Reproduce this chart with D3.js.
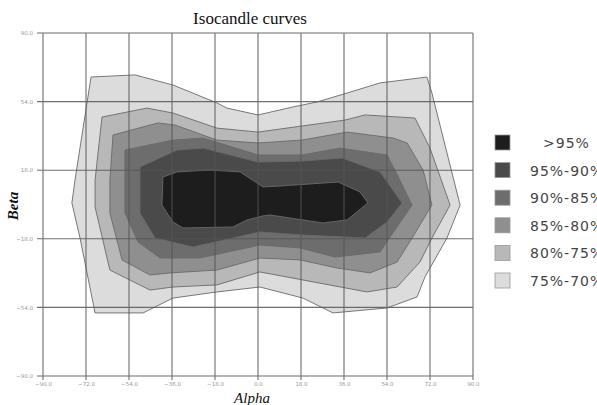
<!DOCTYPE html>
<html>
<head>
<meta charset="utf-8">
<script src="https://cdn.jsdelivr.net/npm/d3@7"></script>
<style>
  body { margin: 0; background: #fff; overflow: hidden; }
  svg { display: block; }
</style>
</head>
<body>
<svg id="chart"></svg>
<script>
// contour levels, outermost first (alpha, beta pairs)
const lvl70 = [[-69.9,66.9],[-51.5,68.0],[-35.6,62.7],[-17.2,53.3],[-13.0,50.6],[0,47.0],[14.7,51.2],[24.7,53.8],[37.3,58.5],[51.1,63.8],[70.7,66.9],[72.8,58.5],[84.6,-0.3],[79.1,-17.6],[69.9,-38.0],[66.6,-48.5],[54.0,-54.3],[31.4,-56.9],[18.8,-49.1],[0.8,-43.3],[-17.2,-45.9],[-35.6,-49.1],[-48.1,-56.9],[-68.2,-56.9],[-74.5,-17.6],[-77.9,0.8],[-76.6,12.9]];
const lvl75 = [[-65.3,45.9],[-46.5,50.6],[-35.6,48.0],[-17.2,40.1],[0,38.0],[18.4,41.2],[36.4,44.3],[44.8,47.0],[65.7,45.4],[72.0,29.6],[80.4,-0.3],[72.8,-17.6],[67.8,-30.2],[58.2,-43.3],[45.6,-45.9],[18.8,-39.6],[0.8,-35.4],[-17.2,-42.2],[-35.6,-43.3],[-45.2,-44.9],[-62.0,-34.4],[-68.2,-1.3],[-68.2,12.9]];
const lvl80 = [[-60.7,36.5],[-41.9,42.8],[-34.7,41.7],[-17.2,33.8],[0,32.3],[18.4,33.8],[37.3,38.0],[56.5,34.9],[62.4,32.3],[69.1,18.1],[72.8,-0.3],[64.5,-17.6],[58.2,-30.2],[46.9,-35.9],[33.1,-33.3],[17.6,-29.1],[0.8,-28.1],[-17.2,-34.4],[-36.8,-35.9],[-45.2,-37.0],[-56.9,-29.1],[-62.0,-4.5],[-62.0,12.9]];
const lvl85 = [[-55.7,28.6],[-35.6,33.8],[-23.0,34.9],[0,26.0],[18.4,26.0],[34.3,29.6],[54.0,26.0],[57.3,18.1],[64.5,-0.3],[55.3,-17.1],[51.1,-24.9],[32.2,-27.6],[17.6,-22.8],[0.8,-21.3],[-24.3,-28.1],[-41.0,-28.1],[-50.2,-19.7],[-55.7,-4.5],[-55.7,12.9]];
const lvl90 = [[-49.4,19.7],[-33.9,28.6],[-23.0,29.6],[0,22.3],[18.4,22.8],[35.2,24.4],[51.1,17.1],[60.3,0.8],[54.0,-9.2],[44.8,-17.6],[18.4,-16.0],[0.8,-14.4],[-27.2,-22.3],[-43.1,-17.6],[-49.4,-4.5]];
const lvl95 = [[-39.8,14.4],[-33.9,17.1],[-20.1,18.1],[-7.5,17.1],[2.1,9.2],[9.2,9.7],[33.5,11.8],[42.7,6.6],[46.0,0.8],[37.3,-8.1],[27.2,-9.7],[5.0,-5.5],[2.1,-6.0],[-4.6,-8.1],[-10.5,-11.8],[-31.4,-12.3],[-35.6,-9.2],[-40.2,-0.3]];

const levels = [lvl70, lvl75, lvl80, lvl85, lvl90, lvl95];
const levelColors = ["#dcdcdc", "#b8b8b8", "#8f8f8f", "#6d6d6d", "#4a4a4a", "#1d1d1d"];
const legendLabels = [">95%", "95%-90%", "90%-85%", "85%-80%", "80%-75%", "75%-70%"];
const legendColors = ["#1d1d1d", "#4a4a4a", "#6d6d6d", "#8f8f8f", "#b8b8b8", "#dcdcdc"];
const alphaTicks = [-90, -72, -54, -36, -18, 0, 18, 36, 54, 72, 90];
const betaTicks = [-90, -54, -18, 18, 54, 90];

const svgWidth = 597, svgHeight = 405;
const svg = d3.select("#chart").attr("width", svgWidth).attr("height", svgHeight);

const x = d3.scaleLinear().domain([-90, 90]).range([43, 473]);
const y = d3.scaleLinear().domain([-90, 90]).range([376, 33]);

// filled contours
const line = d3.line().x(d => x(d[0])).y(d => y(d[1])).curve(d3.curveLinearClosed);
svg.append("g")
    .selectAll("path")
    .data(levels)
    .enter()
    .append("path")
    .attr("d", d => line(d))
    .attr("fill", (d, i) => levelColors[i])
    .attr("stroke", "#6a6a6a")
    .attr("stroke-width", 0.9);

// grid on top
const grid = svg.append("g").attr("stroke", "#555").attr("stroke-width", 1.1).attr("opacity", 0.85);
grid.selectAll(".gx").data(alphaTicks).enter().append("line")
    .attr("x1", d => x(d)).attr("x2", d => x(d))
    .attr("y1", y(90)).attr("y2", y(-90) + 4);
grid.selectAll(".gy").data(betaTicks).enter().append("line")
    .attr("x1", x(-90) - 6).attr("x2", x(90))
    .attr("y1", d => y(d)).attr("y2", d => y(d));

// axes (labels only, grid handles the lines)
const fmt = d3.format(".1f");
const xAxis = svg.append("g")
    .attr("transform", `translate(0,${y(-90)})`)
    .call(d3.axisBottom(x).tickValues(alphaTicks).tickFormat(fmt).tickSize(0).tickPadding(6));
const yAxis = svg.append("g")
    .attr("transform", `translate(${x(-90)},0)`)
    .call(d3.axisLeft(y).tickValues(betaTicks).tickFormat(fmt).tickSize(0).tickPadding(10));
[xAxis, yAxis].forEach(a => {
    a.select(".domain").remove();
    a.selectAll("text").attr("fill", "#999").style("font-family", "DejaVu Sans").style("font-size", "5.5px");
});

// title and axis titles
svg.append("text")
    .attr("x", 250).attr("y", 24)
    .attr("text-anchor", "middle")
    .style("font-family", "Liberation Serif").style("font-size", "17px")
    .attr("fill", "#111")
    .text("Isocandle curves");

svg.append("text")
    .attr("x", 252).attr("y", 403)
    .attr("text-anchor", "middle")
    .style("font-family", "Liberation Serif").style("font-size", "15px").style("font-style", "italic")
    .attr("fill", "#111")
    .text("Alpha");

svg.append("text")
    .attr("transform", "translate(18,206) rotate(-90)")
    .attr("text-anchor", "middle")
    .style("font-family", "Liberation Serif").style("font-size", "15px").style("font-style", "italic")
    .style("font-weight", "bold")
    .attr("fill", "#111")
    .text("Beta");

// legend
const legend = svg.append("g");
legend.selectAll("rect").data(legendColors).enter().append("rect")
    .attr("x", 495).attr("y", (d, i) => 135 + i * 27.6)
    .attr("width", 15).attr("height", 15)
    .attr("fill", d => d)
    .attr("stroke", "#999").attr("stroke-width", 0.8);
legend.selectAll("text").data(legendLabels).enter().append("text")
    .attr("x", (d, i) => i === 0 ? 543 : 530)
    .attr("y", (d, i) => 148 + i * 27.6)
    .style("font-family", "DejaVu Sans").style("font-size", "14px")
    .style("letter-spacing", "1px")
    .attr("fill", "#444")
    .text(d => d);
</script>
</body>
</html>
